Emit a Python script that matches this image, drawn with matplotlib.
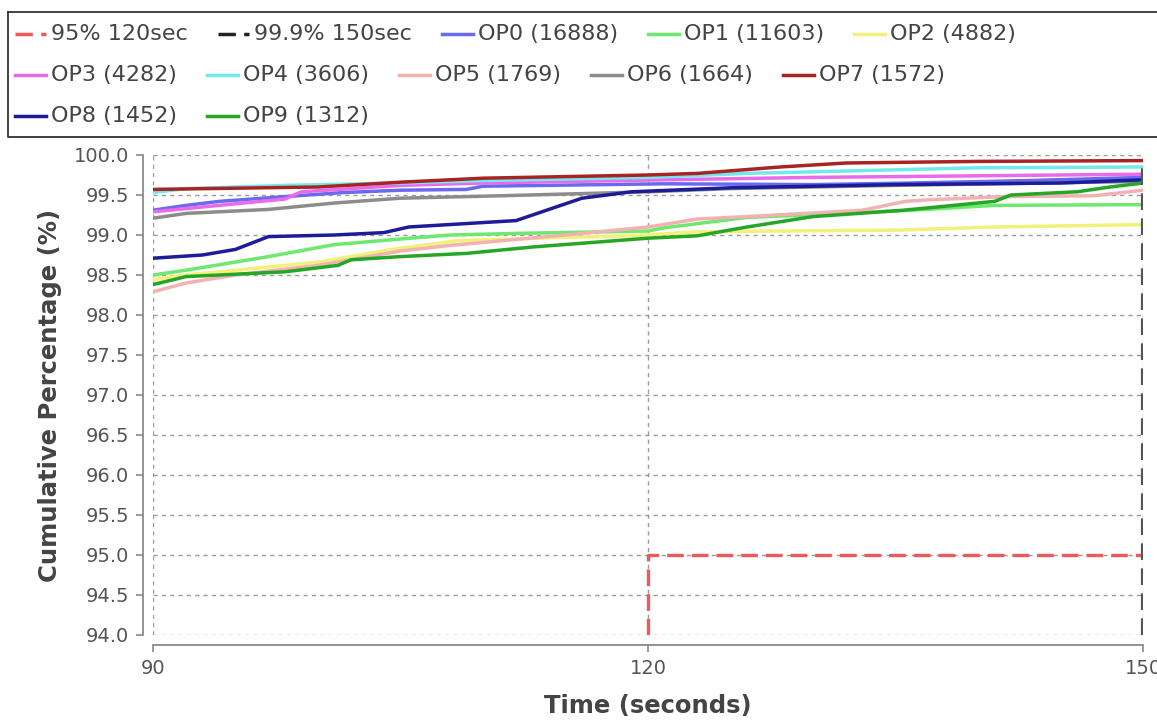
import matplotlib
matplotlib.use("Agg")
import matplotlib.pyplot as plt
from matplotlib.lines import Line2D

W, H = 1157, 720

# response time thresholds: (percentile, seconds)
sla_95 = (95.0, 120)
sla_999 = (99.9, 150)

# operation names and their request counts
op_names = ["OP0", "OP1", "OP2", "OP3", "OP4", "OP5", "OP6", "OP7", "OP8", "OP9"]
op_counts = [16888, 11603, 4882, 4282, 3606, 1769, 1664, 1572, 1452, 1312]
op_colors = ["#6a6aee", "#6ee86e", "#f2f27a", "#ea6aea", "#72eaea",
             "#f2b2b2", "#8c8c8c", "#a82424", "#1c1c98", "#26a626"]

# cumulative percentage curves (time in seconds, percent)
op0_t = [90, 92, 94, 98, 101.5, 105, 109, 110, 121, 130, 136, 143, 150]
op0_p = [99.31, 99.37, 99.42, 99.48, 99.53, 99.56, 99.57, 99.61, 99.64, 99.63, 99.65, 99.68, 99.72]
op1_t = [90, 92, 97, 101, 105, 108, 112, 120, 121, 126, 131, 136, 141, 150]
op1_p = [98.50, 98.56, 98.73, 98.88, 98.95, 99.00, 99.02, 99.05, 99.09, 99.22, 99.26, 99.31, 99.37, 99.38]
op2_t = [90, 92, 95, 100, 104.5, 108.5, 115, 119, 123, 128, 135, 141, 150]
op2_p = [98.44, 98.50, 98.56, 98.66, 98.82, 98.93, 98.97, 98.99, 99.04, 99.05, 99.06, 99.10, 99.13]
op3_t = [90, 92, 98, 99, 105, 110, 121, 130, 140, 150]
op3_p = [99.29, 99.33, 99.45, 99.54, 99.62, 99.65, 99.69, 99.72, 99.74, 99.76]
op4_t = [90, 92, 98, 105, 110, 120, 126, 132, 140, 150]
op4_p = [99.53, 99.58, 99.62, 99.65, 99.68, 99.72, 99.77, 99.80, 99.84, 99.85]
op5_t = [90, 92, 95, 100, 105, 108, 115, 120, 123, 126, 133, 135.6, 137, 141.6, 147, 150]
op5_p = [98.29, 98.40, 98.50, 98.62, 98.80, 98.87, 99.00, 99.10, 99.20, 99.23, 99.31, 99.42, 99.44, 99.48, 99.49, 99.56]
op6_t = [90, 92, 97, 101, 105, 111, 120, 125, 135, 150]
op6_p = [99.21, 99.27, 99.32, 99.40, 99.46, 99.49, 99.54, 99.58, 99.62, 99.67]
op7_t = [90, 100, 105, 110, 120, 123, 128, 132, 140, 150]
op7_p = [99.57, 99.60, 99.66, 99.71, 99.75, 99.77, 99.85, 99.90, 99.92, 99.93]
op8_t = [90, 93, 95, 97, 101, 104, 105.5, 112, 116, 119, 125, 135, 145, 150]
op8_p = [98.71, 98.75, 98.82, 98.98, 99.00, 99.03, 99.10, 99.18, 99.46, 99.54, 99.59, 99.63, 99.65, 99.69]
op9_t = [90, 92, 94, 98, 101.2, 102, 105, 109, 113, 120, 123, 126, 130, 135.5, 141, 142, 146, 148, 150]
op9_p = [98.38, 98.48, 98.50, 98.54, 98.62, 98.69, 98.73, 98.77, 98.85, 98.96, 98.99, 99.10, 99.23, 99.31, 99.42, 99.50, 99.54, 99.60, 99.65]

op_times = [op0_t, op1_t, op2_t, op3_t, op4_t, op5_t, op6_t, op7_t, op8_t, op9_t]
op_pcts = [op0_p, op1_p, op2_p, op3_p, op4_p, op5_p, op6_p, op7_p, op8_p, op9_p]

x_ticks = [90, 120, 150]
y_min, y_max = 94.0, 100.0

plt.rcParams["font.family"] = ["DejaVu Sans"]

fig = plt.figure(figsize=(W / 100, H / 100), dpi=100)


def fx(px):
    return px / W


def fy(py):
    return 1 - py / H


# plot area in pixels
left, right, top, bottom = 153, 1143, 155, 635
ax = fig.add_axes([fx(left), fy(bottom), fx(right - left), (bottom - top) / H])

sla_red = "#ee5a5a"
sla_dark = "#555555"
ax.plot([sla_95[1], sla_95[1], sla_95[1] + 60], [y_min, sla_95[0], sla_95[0]],
        color=sla_red, lw=2.4, ls=(0, (5, 2.4)), zorder=5)
ax.plot([sla_999[1], sla_999[1], sla_999[1] + 60], [y_min, sla_999[0], sla_999[0]],
        color=sla_dark, lw=3.0, ls=(0, (4, 2)), zorder=5)

for t, p, c in zip(op_times, op_pcts, op_colors):
    ax.plot(t, p, color=c, lw=2.5, solid_joinstyle="round", zorder=3)

ax.set_xlim(90, 150)
ax.set_ylim(y_min, y_max)
ax.set_xticks(x_ticks)
ax.set_yticks([y_min + 0.5 * i for i in range(13)])
ax.yaxis.set_major_formatter(matplotlib.ticker.FormatStrFormatter("%.1f"))

ax.grid(True, color="#9a9a9a", lw=1, ls=(0, (3, 3)))
ax.set_axisbelow(True)
for side in ["top", "right"]:
    ax.spines[side].set_visible(False)
for side in ["left", "bottom"]:
    ax.spines[side].set_position(("outward", 7))
    ax.spines[side].set_color("#8a8a8a")
    ax.spines[side].set_linewidth(1.3)
ax.tick_params(axis="both", colors="#8a8a8a", labelcolor="#555555",
               length=5, width=1.2, labelsize=14, pad=5)

ax.set_xlabel("Time (seconds)", fontsize=17.5, fontweight="bold", color="#444444", labelpad=12)
ax.set_ylabel("Cumulative Percentage (%)", fontsize=17.5, fontweight="bold", color="#444444", labelpad=9)

# legend drawn as a flow layout across the top
lg = fig.add_axes([0, 0, 1, 1], zorder=10)
lg.set_xlim(0, W)
lg.set_ylim(H, 0)
lg.axis("off")
lg.plot([8, 8, 1170], [12, 137, 137], color="#333333", lw=1.3, clip_on=False)
lg.plot([8, 1170], [12, 12], color="#333333", lw=1.3, clip_on=False)

entries = [("95% 120sec", sla_red, (0, (5, 2.4))),
           ("99.9% 150sec", "#222222", (0, (5, 2.4)))]
for name, n, c in zip(op_names, op_counts, op_colors):
    entries.append((f"{name} ({n})", c, "-"))
rows = [entries[0:5], entries[5:10], entries[10:12]]
row_y = [34, 75, 116]

renderer = fig.canvas.get_renderer()
for row, y in zip(rows, row_y):
    x = 15
    for label, c, ls in row:
        seg = 31
        lg.add_line(Line2D([x, x + seg], [y, y], color=c, lw=2.5, ls=ls))
        txt = lg.text(x + seg + 5, y, label, fontsize=16, color="#444444",
                      va="center", ha="left")
        w = txt.get_window_extent(renderer).width
        x = x + seg + 5 + w + 30

fig.savefig("out.png", dpi=100)
